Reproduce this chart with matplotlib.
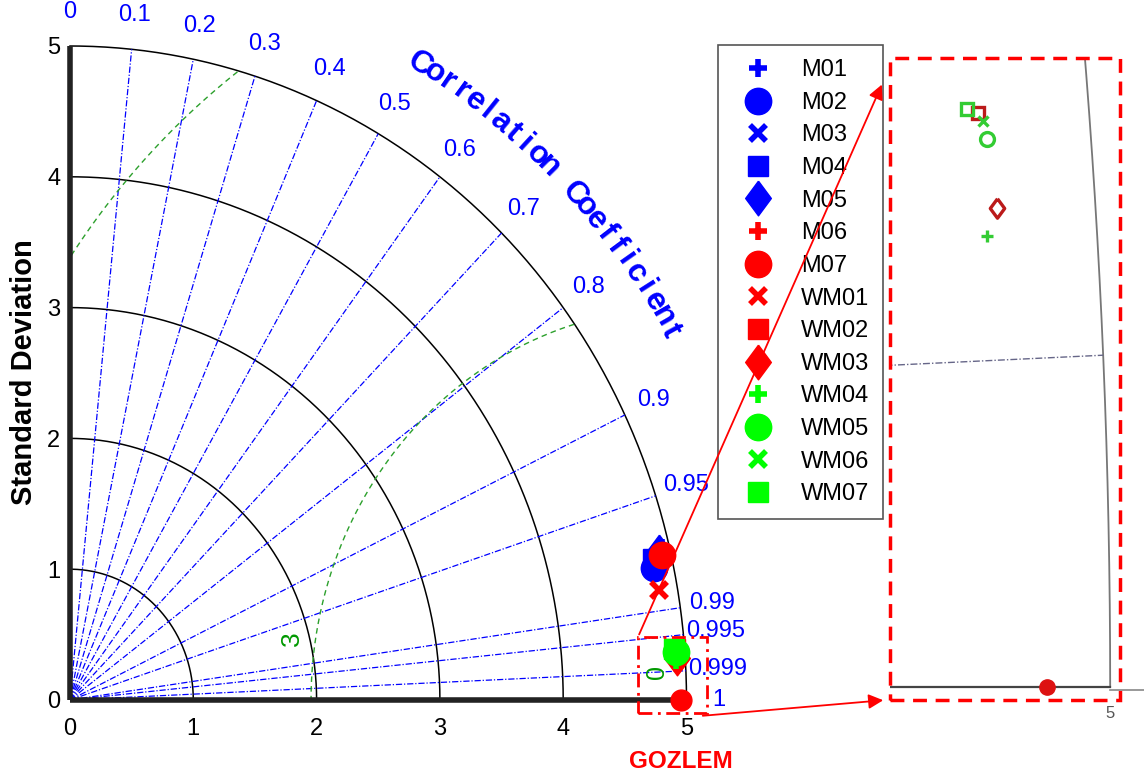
import numpy as np
import matplotlib.pyplot as plt
from matplotlib.patches import Rectangle

plt.rcParams['font.family'] = ['Liberation Sans', 'DejaVu Sans']

# model runs: standard deviation and correlation against the observation (GOZLEM)
names = ['M01', 'M02', 'M03', 'M04', 'M05', 'M06', 'M07',
         'WM01', 'WM02', 'WM03', 'WM04', 'WM05', 'WM06', 'WM07']
std_dev = [4.938, 4.846, 4.874, 4.852, 4.912, 4.915, 4.927,
           4.853, 4.9213, 4.9296, 4.9214, 4.9259, 4.9238, 4.9135]
corr = [0.9720, 0.9781, 0.9766, 0.9749, 0.9731, 0.9746, 0.9742,
        0.9849, 0.99690, 0.99785, 0.99809, 0.99718, 0.99699, 0.99685]
ref_std = 4.955

std_ticks = [1, 2, 3, 4, 5]
corr_ticks = [0.1, 0.2, 0.3, 0.4, 0.5, 0.6, 0.7, 0.8, 0.9, 0.95, 0.99, 0.995, 0.999]
corr_labels = ['0', '0.1', '0.2', '0.3', '0.4', '0.5', '0.6', '0.7', '0.8', '0.9',
               '0.95', '0.99', '0.995', '0.999', '1']
rms_levels = [3, 6]

diamond = [(0, 1), (0.74, 0), (0, -1), (-0.74, 0), (0, 1)]
markers = ['+', 'o', 'x', 's', diamond, '+', 'o', 'x', 's', diamond, '+', 'o', 'x', 's']
colors = ['#0000ff'] * 5 + ['#ff0000'] * 5 + ['#00ff00'] * 4
msize = {'+': (13, 4), 'o': (19, 1), 'x': (11, 4), 's': (15, 1)}

W, H = 1144, 780
fig = plt.figure(figsize=(W / 100, H / 100), dpi=100)
ax = fig.add_axes([70 / W, 80 / H, 616.5 / W, 654 / H])
ax.set_xlim(0, 5)
ax.set_ylim(0, 5)
for s in ax.spines.values():
    s.set_visible(False)
ax.set_xticks(range(6))
ax.set_yticks(range(6))
ax.tick_params(length=0, labelsize=17)
ax.tick_params(axis='x', pad=13)
ax.tick_params(axis='y', pad=7)

# px per data unit, used for rotating curved text
sx = 616.5 / 5
sy = 654 / 5

# thick axes lines
ax.plot([0, 0], [0, 5], color='#222222', lw=4, solid_capstyle='butt', clip_on=False, zorder=3)
ax.plot([0, 5], [0, 0], color='#222222', lw=4, solid_capstyle='butt', clip_on=False, zorder=3)

th = np.linspace(0, np.pi / 2, 300)
for s in std_ticks:
    ax.plot(s * np.cos(th), s * np.sin(th), color='black', lw=1.1, clip_on=False)

# correlation rays
for c in corr_ticks:
    a = np.arccos(c)
    ax.plot([0, 5 * np.cos(a)], [0, 5 * np.sin(a)], color='blue', lw=0.9,
            dashes=(5, 1.5, 1, 1.5), clip_on=False)
for c, lab in zip([0.0] + corr_ticks + [1.0], corr_labels):
    a = np.arccos(c)
    ax.text(5.26 * np.cos(a), 5.26 * np.sin(a), lab, color='blue', fontsize=17,
            ha='center', va='center', clip_on=False)

# curved axis title
title = 'Correlation Coefficient'
ang = 59.7
for ch in title:
    if ch != ' ':
        a = np.radians(ang)
        rot = np.degrees(np.arctan2(-np.cos(a) * sy, np.sin(a) * sx))
        ax.text(5.63 * np.cos(a), 5.63 * np.sin(a), ch, color='blue', fontsize=23,
                fontweight='bold', ha='center', va='center', rotation=rot,
                rotation_mode='anchor', clip_on=False)
        ang -= 1.33
    else:
        ang -= 1.67

# centred RMS difference contours
phi = np.linspace(0, np.pi, 800)
for R in rms_levels:
    x = ref_std + R * np.cos(phi)
    y = R * np.sin(phi)
    keep = (np.hypot(x, y) <= 5) & (x >= 0)
    ax.plot(x[keep], y[keep], color='#2ca02c', lw=1, dashes=(4, 3), clip_on=False)
ax.text(1.80, 0.47, '3', color='#009900', fontsize=19, rotation=90, ha='center', va='center')
ax.text(4.76, 0.214, '0', color='#009900', fontsize=18, rotation=90, ha='center', va='center')

# model points
handles = []
for n, s, c, m, col in zip(names, std_dev, corr, markers, colors):
    a = np.arccos(c)
    if isinstance(m, list):
        ms, mew = 25, 1
    else:
        ms, mew = msize[m]
    h, = ax.plot(s * np.cos(a), s * np.sin(a), linestyle='none', marker=m, ms=ms, mew=mew,
                 color=col, mfc=col, mec=col, label=n, clip_on=False, zorder=5)
    handles.append(h)

# observation
ax.plot(ref_std, 0, 'o', color='#ff0000', ms=15, clip_on=False, zorder=6)
ax.text(ref_std, -0.474, 'GOZLEM', color='#ff0000', fontsize=17.5, fontweight='bold',
        ha='center', va='center', clip_on=False)

fig.text(24 / W, 1 - 372 / H, 'Standard Deviation', rotation=90, fontsize=21,
         fontweight='bold', ha='center', va='center')

leg = ax.legend(handles=handles, loc='upper left', bbox_to_anchor=(718 / W, 1 - 45 / H),
                bbox_transform=fig.transFigure, fontsize=17, borderaxespad=0,
                borderpad=0.6, handlelength=2.2, handletextpad=0.7, labelspacing=0.45,
                fancybox=False, framealpha=1, edgecolor='#555555', numpoints=1)
leg.get_frame().set_linewidth(1.2)

# zoom box on the main diagram
ax.add_patch(Rectangle((4.607, -0.099), 0.559, 0.581, fill=False, edgecolor='red',
                       lw=2, linestyle=(0, (5, 2, 1, 2)), clip_on=False, zorder=7))

# zoomed panel
ax2 = fig.add_axes([890 / W, 80 / H, 230 / W, 642 / H])
ax2.set_xlim(4.843, 5.007)
ax2.set_ylim(-0.009, 0.424)
ax2.axis('off')
tt = np.linspace(0, 0.2, 400)
ax2.plot(5 * np.cos(tt), 5 * np.sin(tt), color='#777777', lw=1.3)
ax2.plot([4.843, 5.0], [0, 0], color='#444444', lw=1.6)
ax2.plot([5.0, 5.025], [-0.002, -0.002], color='#888888', lw=1.2, clip_on=False)
a = np.arccos(0.999)
ax2.plot([0, 5 * np.cos(a)], [0, 5 * np.sin(a)], color='#666688', lw=1,
         dashes=(5, 1.5, 1, 1.5))
ax2.plot(ref_std, 0, 'o', color='#dd1111', ms=11)
inset_col = {'#ff0000': '#bb1a1a', '#00ff00': '#33cc33'}
for s, c, m, col in zip(std_dev[8:], corr[8:], markers[8:], colors[8:]):
    a = np.arccos(c)
    k = inset_col[col]
    if isinstance(m, list):
        ms = 14
    else:
        ms = {'+': 9, 'o': 10, 'x': 7, 's': 9}[m]
    ax2.plot(s * np.cos(a), s * np.sin(a), linestyle='none', marker=m, ms=ms, mew=2.4,
             mec=k, mfc='none' if m != '+' else k)
fig.text(1110 / W, 1 - 714 / H, '5', color='#555555', fontsize=12, ha='center', va='center')
fig.add_artist(Rectangle((890 / W, 80 / H), 230 / W, 642 / H, transform=fig.transFigure,
                         fill=False, edgecolor='red', lw=2.5, linestyle=(0, (4, 2.5))))

# arrows linking the zoom box to the panel
ax.annotate('', xy=(883, H - 82), xytext=(638, H - 637), xycoords='figure pixels',
            textcoords='figure pixels', zorder=10,
            arrowprops=dict(arrowstyle='-|>', color='red', lw=1.3, mutation_scale=22))
ax.annotate('', xy=(886, H - 700), xytext=(700, H - 716), xycoords='figure pixels',
            textcoords='figure pixels', zorder=10,
            arrowprops=dict(arrowstyle='-|>', color='red', lw=1.3, mutation_scale=22))

fig.savefig('out.png', dpi=100)
